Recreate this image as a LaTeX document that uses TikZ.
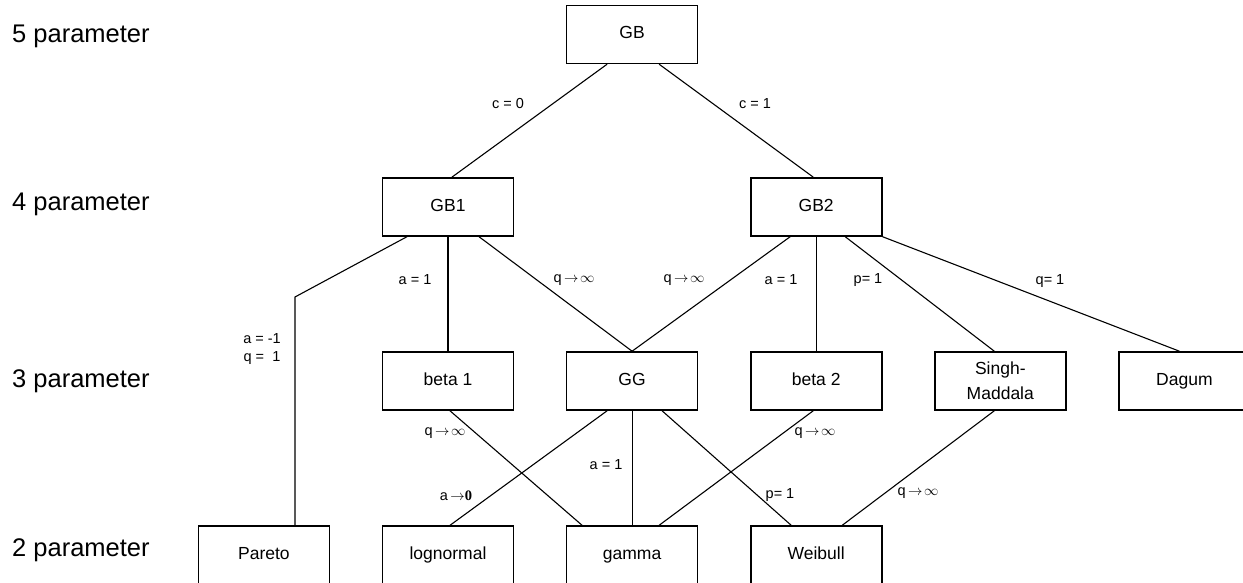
\documentclass[tikz,border=0pt]{standalone}
\usepackage{fontspec}
\setmainfont{Liberation Sans}
\newfontfamily\zeroface{Liberation Serif}
\usetikzlibrary{positioning}
\tikzset{
    %Define style for the distribution boxes
    family/.style={
           rectangle,
           draw=black, line width=1.6pt,
           minimum width=131pt,
           minimum height=58pt,
           inner sep=0pt,
           text height=12.6pt,
           text depth=3.7pt,
           font=\fontsize{17.5}{25}\selectfont,
           align=center},
    %Define style for the parameter restrictions
    restr/.style={
           inner sep=0pt,
           font=\fontsize{14.5}{18}\selectfont,
           align=center},
    %Define style for the row captions
    level/.style={
           anchor=west,
           inner sep=0pt,
           font=\fontsize{25.5}{28}\selectfont},
    % Define line style
    link/.style={
           line width=1.1pt}
}
\newcommand{\tends}[1]{#1\,$\rightarrow\!\infty$}

\begin{document}
\begin{tikzpicture}[x=1pt,y=-1pt,node distance=114.5pt and 51.5pt]
\useasboundingbox (0,0) rectangle (1243,583);
\node[family](beta1) at (448,381){beta 1};
\node[family, right=of beta1](gg){GG};
\node[family, right=of gg](beta2){beta 2};
\node[family, right=of beta2, text height=, text depth=](sm){Singh-\\Maddala};
\node[family, right=of sm](dagum){Dagum};
\node[family, above=of beta1](gb1){GB1};
\node[family, above=of beta2](gb2){GB2};
\node[family, above=287pt of gg](gb){GB};
\node[family, below=of beta1](lognormal){lognormal};
\node[family, below=of gg](gamma){gamma};
\node[family, below=of beta2](weibull){Weibull};
\node[family, left=of lognormal](pareto){Pareto};
\coordinate (bend) at (295,297);
\node[level](p5) at (12,36){5 parameter};
\node[level](p4) at (12,204){4 parameter};
\node[level](p3) at (12,381){3 parameter};
\node[level](p2) at (12,550){2 parameter};
\path[link]
	([xshift=-25pt]gb.south) edge ([xshift=4pt]gb1.north)
	([xshift=27pt]gb.south) edge ([xshift=-3pt]gb2.north)
	(gb1) edge (beta1)
	([xshift=31pt]gb1.south) edge (gg.north)
	([xshift=-26pt]gb2.south) edge (gg.north)
	(gb2) edge (beta2)
	([xshift=29pt]gb2.south) edge ([xshift=-6pt]sm.north)
	(gb2.south east) edge ([xshift=-5pt]dagum.north)
	([xshift=2pt]beta1.south) edge ([xshift=-50pt]gamma.north)
	([xshift=-25pt]gg.south) edge ([xshift=2pt]lognormal.north)
	(gg) edge (gamma)
	([xshift=30pt]gg.south) edge ([xshift=-25pt]weibull.north)
	([xshift=-3pt]beta2.south) edge ([xshift=27pt]gamma.north)
	([xshift=-6pt]sm.south) edge ([xshift=26pt]weibull.north);
\draw[link] ([xshift=-41pt]gb1.south) -- (bend) -- (bend |- pareto.north);
\node[restr](c0) at (508,104){c = 0};
\node[restr](c1) at (755,104){c = 1};
\node[restr](a1l) at (415,280){a = 1};
\node[restr](q1l) at (574,280){\tends{q}};
\node[restr](q1r) at (684,280){\tends{q}};
\node[restr](a1r) at (781,280){a = 1};
\node[restr](p1) at (868,280){p= 1};
\node[restr](q1d) at (1050,281){q= 1};
\node[restr](aq) at (262,349){a = -1\\q =\ \ 1};
\node[restr](q2l) at (445,433){\tends{q}};
\node[restr](a1g) at (606,465){a = 1};
\node[restr](a0) at (456,496){a\,$\rightarrow${\zeroface\bfseries 0}};
\node[restr](q2r) at (815,433){\tends{q}};
\node[restr](p1w) at (780,495){p= 1};
\node[restr](q2w) at (918,493){\tends{q}};
\end{tikzpicture}
\end{document}
